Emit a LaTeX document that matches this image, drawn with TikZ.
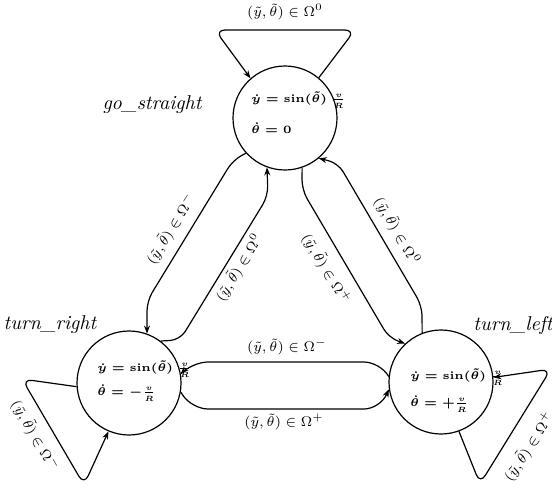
\RequirePackage{fix-cm}
\documentclass[tikz,border=0pt]{standalone}
\usetikzlibrary{arrows.meta}
% small dynamics text with proportionally tiny fractions
\DeclareMathSizes{5.6}{5.6}{3.8}{3.2}
\begin{document}
\begin{tikzpicture}[x=0.5pt,y=-0.5pt,
  state/.style={circle,draw,line width=0.6pt,minimum size=52pt,inner sep=0pt},
  edge/.style={line width=0.6pt,rounded corners=5pt},
  arr/.style={edge,-{Stealth[length=4pt,width=3pt]}},
  cond/.style={font=\scriptsize,inner sep=1pt},
  eqn/.style={font=\fontsize{5.6}{6.5}\selectfont\boldmath,anchor=west,inner sep=0pt},
  statename/.style={font=\itshape,inner sep=1pt}]
\useasboundingbox (0,0) rectangle (552,489);

% the three modes
\node[state] (gs) at (285,118) {};
\node[state] (tr) at (129,383) {};
\node[state] (tl) at (441,382) {};

% dynamics inside each mode
\node[eqn] (gs1) at (251,100) {$\dot{y} = \sin(\tilde{\theta})\;\frac{v}{R}$};
\node[eqn] (gs2) at (251,128) {$\dot{\theta} = 0$};
\node[eqn] (tr1) at (97,369) {$\dot{y} = \sin(\tilde{\theta})\;\frac{v}{R}$};
\node[eqn] (tr2) at (97,393) {$\dot{\theta} = -\frac{v}{R}$};
\node[eqn] (tl1) at (410,377) {$\dot{y} = \sin(\tilde{\theta})\;\frac{v}{R}$};
\node[eqn] (tl2) at (410,404) {$\dot{\theta} = +\frac{v}{R}$};

% mode names
\node[statename] (ngs) at (152,105) {go\_straight};
\node[statename] (ntr) at (50,325) {turn\_right};
\node[statename] (ntl) at (513,325) {turn\_left};

% self loops
\draw[arr] (gs.50) -- (355,30) -- (215,30) -- (gs.131);
\draw[arr] (tr.184) -- (22,379) -- (84,485) -- (tr.247);
\draw[arr] (tl.290) -- (480,484) -- (551,369) -- (tl.5);

% transitions between go_straight and turn_right
\draw[arr] (gs.222) -- (233,160) -- (147,301) -- (tr.70);
\draw[arr] (tr.53) -- (180,340) -- (268,196) -- (gs.250);

% transitions between go_straight and turn_left
\draw[arr] (gs.289) -- (302,190) -- (389,338) -- (tl.133);
\draw[arr] (tl.111) -- (422,306) -- (338,163) -- (gs.310);

% transitions between turn_left and turn_right
\draw[arr,rounded corners=8pt] (tl.174) -- (380,362) -- (192,362) -- (tr.10);
\draw[arr,rounded corners=8pt] (tr.350) -- (192,409) -- (380,409) -- (tl.188);

% guard conditions
\node[cond] (c1) at (285,12) {$(\tilde{y},\tilde{\theta})\in\Omega^{0}$};
\node[cond,rotate=-60] (c2) at (35,436) {$(\tilde{y},\tilde{\theta})\in\Omega^{-}$};
\node[cond,rotate=57] (c3) at (529,447) {$(\tilde{y},\tilde{\theta})\in\Omega^{+}$};
\node[cond,rotate=58] (c4) at (171,229) {$(\tilde{y},\tilde{\theta})\in\Omega^{-}$};
\node[cond,rotate=58] (c5) at (239,268) {$(\tilde{y},\tilde{\theta})\in\Omega^{0}$};
\node[cond,rotate=-59] (c6) at (326,269) {$(\tilde{y},\tilde{\theta})\in\Omega^{+}$};
\node[cond,rotate=-60] (c7) at (397,231) {$(\tilde{y},\tilde{\theta})\in\Omega^{0}$};
\node[cond] (c8) at (287,347) {$(\tilde{y},\tilde{\theta})\in\Omega^{-}$};
\node[cond] (c9) at (284,422) {$(\tilde{y},\tilde{\theta})\in\Omega^{+}$};
\end{tikzpicture}
\end{document}
